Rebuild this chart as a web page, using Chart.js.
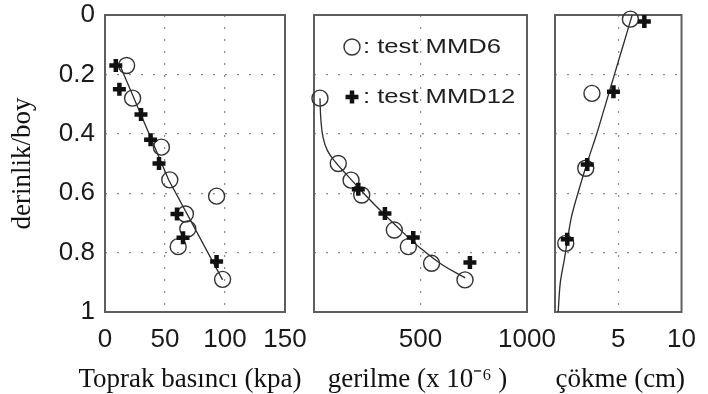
<!DOCTYPE html>
<html>
<head>
<meta charset="utf-8">
<script src="https://cdn.jsdelivr.net/npm/chart.js@4.4.1/dist/chart.umd.min.js"></script>
<style>
  body { margin: 0; background: #fff; }
  #wrap { position: relative; width: 708px; height: 394px; }
  #wrap canvas { position: absolute; left: 0; top: 0; }
</style>
</head>
<body>
<div id="wrap">
  <canvas id="pressureChart" width="708" height="394"></canvas>
  <canvas id="strainChart" width="708" height="394"></canvas>
  <canvas id="settleChart" width="708" height="394"></canvas>
</div>
<script>
// depth axis shared by the three panels
const depthTicks = [0, 0.2, 0.4, 0.6, 0.8, 1];
const depthLabels = ["0", "0.2", "0.4", "0.6", "0.8", "1"];
const seriesNames = ["test MMD6", "test MMD12"];

// panel 1 - Toprak basıncı (kpa)
const pressureTicks = [0, 50, 100, 150];
const pressureLabels = ["0", "50", "100", "150"];
const pressureMMD6 = [18, 23, 47, 54, 93, 67, 69, 61, 98];
const pressureMMD6Depth = [0.17, 0.28, 0.445, 0.555, 0.61, 0.67, 0.72, 0.78, 0.89];
const pressureMMD12 = [9, 12, 30, 38, 45, 60, 65, 93];
const pressureMMD12Depth = [0.17, 0.25, 0.335, 0.42, 0.5, 0.67, 0.75, 0.83];
const pressureFit = [12, 53, 98];
const pressureFitDepth = [0.165, 0.555, 0.892];

// panel 2 - gerilme (x 10^-6)
const strainTicks = [0, 500, 1000];
const strainLabels = ["", "500", "1000"];
const strainMMD6 = [28, 114, 174, 224, 377, 443, 552, 709];
const strainMMD6Depth = [0.28, 0.5, 0.556, 0.606, 0.724, 0.78, 0.836, 0.892];
const strainMMD12 = [208, 333, 466, 732];
const strainMMD12Depth = [0.587, 0.668, 0.749, 0.833];
const strainFit = [28, 32, 42, 62, 95, 150, 220, 300, 400, 500, 600, 710];
const strainFitDepth = [0.28, 0.35, 0.41, 0.455, 0.49, 0.535, 0.59, 0.65, 0.72, 0.785, 0.84, 0.885];

// panel 3 - çökme (cm)
const settleTicks = [0, 5, 10];
const settleLabels = ["", "5", "10"];
const settleMMD6 = [5.96, 2.92, 2.43, 0.85];
const settleMMD6Depth = [0.014, 0.264, 0.516, 0.769];
const settleMMD12 = [7.06, 4.62, 2.55, 0.97];
const settleMMD12Depth = [0.022, 0.258, 0.503, 0.755];
const settleFit = [0.25, 0.42, 0.75, 1.3, 1.95, 2.6, 3.3, 4.0, 4.7, 5.4, 6.1];
const settleFitDepth = [1.0, 0.9, 0.82, 0.68, 0.58, 0.49, 0.4, 0.3, 0.2, 0.1, 0.0];

const pts = (xs, ys) => xs.map((x, i) => ({ x: x, y: ys[i] }));

const tickFont = { family: "Liberation Sans, Arial, sans-serif", size: 26 };
const titleFont = { family: "Liberation Serif, Times New Roman, serif", size: 27 };
const gridColor = "#8c8c8c";

// box around each plot area, like matlab axes
const framePlugin = {
    id: "frame",
    beforeDatasetsDraw(chart) {
        const { ctx, chartArea: a } = chart;
        ctx.save();
        ctx.strokeStyle = "#5e5e5e";
        ctx.lineWidth = 2;
        ctx.strokeRect(a.left, a.top, a.right - a.left, a.bottom - a.top);
        ctx.restore();
    },
};

// x titles are wider than the narrow panels, so chart.js would squeeze them;
// draw them unsqueezed under the tick labels instead
const xTitlePlugin = {
    id: "xTitle",
    afterDraw(chart, args, opts) {
        const { ctx, chartArea: a } = chart;
        ctx.save();
        ctx.font = titleFont.size + "px " + titleFont.family;
        ctx.fillStyle = "#111";
        ctx.textAlign = "center";
        ctx.textBaseline = "alphabetic";
        ctx.fillText(opts.text, (a.left + a.right) / 2 + (opts.shift || 0), 387);
        ctx.restore();
    },
};

// the "O: test MMD6 / +: test MMD12" note inside the middle panel
const notePlugin = {
    id: "note",
    afterDatasetsDraw(chart) {
        const { ctx, chartArea: a } = chart;
        const mx = a.left + 38;
        const rows = [
            { y: a.top + 32, style: "circle", radius: 8, width: 1.4, color: "#333" },
            { y: a.top + 82, style: "cross", radius: 6.5, width: 4.5, color: "#111" },
        ];
        ctx.save();
        rows.forEach((r, i) => {
            ctx.strokeStyle = r.color;
            ctx.fillStyle = "transparent";
            ctx.lineWidth = r.width;
            Chart.helpers.drawPoint(ctx, { pointStyle: r.style, radius: r.radius, borderWidth: r.width, rotation: 0 }, mx, r.y);
            ctx.save();
            ctx.translate(mx + 11, r.y);
            ctx.scale(1.28, 1);
            ctx.fillStyle = "#1e1e1e";
            ctx.font = "20px Liberation Sans, Arial, sans-serif";
            ctx.textBaseline = "middle";
            ctx.fillText(": " + seriesNames[i], 0, 0);
            ctx.restore();
        });
        ctx.restore();
    },
};

function buildPanel(id, cfg) {
    const last = cfg.xTicks.length - 1;
    const lastY = depthTicks.length - 1;
    return new Chart(document.getElementById(id), {
        type: "scatter",
        data: {
            datasets: [
                {
                    label: "fit",
                    data: pts(cfg.fitX, cfg.fitY),
                    showLine: true,
                    borderColor: "#2b2b2b",
                    borderWidth: 1.3,
                    pointRadius: 0,
                    tension: cfg.tension,
                    clip: false,
                    order: 3,
                },
                {
                    label: seriesNames[0],
                    data: pts(cfg.circX, cfg.circY),
                    pointStyle: "circle",
                    pointRadius: 8,
                    borderWidth: 1.4,
                    borderColor: "#333",
                    backgroundColor: "transparent",
                    clip: false,
                    order: 2,
                },
                {
                    label: seriesNames[1],
                    data: pts(cfg.crossX, cfg.crossY),
                    pointStyle: "cross",
                    pointRadius: 6.5,
                    borderWidth: 4.5,
                    borderColor: "#111",
                    clip: false,
                    order: 1,
                },
            ],
        },
        options: {
            responsive: false,
            animation: false,
            events: [],
            layout: { padding: { left: 0, right: 708 - cfg.right, top: 15, bottom: 0 } },
            plugins: {
                legend: { display: false },
                tooltip: { enabled: false },
                xTitle: { text: cfg.xTitle, shift: cfg.titleShift },
            },
            scales: {
                x: {
                    type: "linear",
                    min: cfg.xTicks[0],
                    max: cfg.xTicks[last],
                    afterBuildTicks: (s) => { s.ticks = cfg.xTicks.map((v) => ({ value: v })); },
                    afterFit: (s) => { s.height = 82; },
                    ticks: {
                        callback: (v, i) => cfg.xLabels[i],
                        font: tickFont,
                        color: "#1a1a1a",
                        padding: 12,
                        maxRotation: 0,
                        autoSkip: false,
                    },
                    grid: {
                        color: (c) => (c.index === 0 || c.index === last ? "transparent" : gridColor),
                        drawTicks: false,
                        lineWidth: 1.2,
                    },
                    border: { display: false, dash: [2, 10] },
                },
                y: {
                    type: "linear",
                    min: 0,
                    max: 1,
                    reverse: true,
                    afterBuildTicks: (s) => { s.ticks = depthTicks.map((v) => ({ value: v })); },
                    afterFit: (s) => {
                        s.width = cfg.left;
                        s.paddingTop = 0;
                        s.paddingBottom = 0;
                    },
                    ticks: {
                        display: cfg.showDepth,
                        callback: (v, i) => depthLabels[i],
                        font: tickFont,
                        color: "#1a1a1a",
                        padding: 10,
                    },
                    grid: {
                        color: (c) => (c.index === 0 || c.index === lastY ? "transparent" : gridColor),
                        drawTicks: false,
                        lineWidth: 1.2,
                    },
                    border: { display: false, dash: [2, 10] },
                    title: {
                        display: cfg.showDepth,
                        text: "derinlik/boy",
                        font: titleFont,
                        color: "#111",
                        padding: { top: 7, bottom: 0 },
                    },
                },
            },
        },
        plugins: cfg.note ? [framePlugin, notePlugin, xTitlePlugin] : [framePlugin, xTitlePlugin],
    });
}

buildPanel("pressureChart", {
    left: 105, right: 285, showDepth: true, tension: 0, titleShift: -5,
    xTicks: pressureTicks, xLabels: pressureLabels, xTitle: "Toprak basıncı (kpa)",
    circX: pressureMMD6, circY: pressureMMD6Depth,
    crossX: pressureMMD12, crossY: pressureMMD12Depth,
    fitX: pressureFit, fitY: pressureFitDepth,
});

buildPanel("strainChart", {
    left: 314, right: 527, showDepth: false, tension: 0.4, note: true, titleShift: -3,
    xTicks: strainTicks, xLabels: strainLabels, xTitle: "gerilme (x 10\u207B\u2076 )",
    circX: strainMMD6, circY: strainMMD6Depth,
    crossX: strainMMD12, crossY: strainMMD12Depth,
    fitX: strainFit, fitY: strainFitDepth,
});

buildPanel("settleChart", {
    left: 555, right: 692, showDepth: false, tension: 0.3, titleShift: 2,
    xTicks: settleTicks, xLabels: settleLabels, xTitle: "çökme (cm)",
    circX: settleMMD6, circY: settleMMD6Depth,
    crossX: settleMMD12, crossY: settleMMD12Depth,
    fitX: settleFit, fitY: settleFitDepth,
});
</script>
</body>
</html>
